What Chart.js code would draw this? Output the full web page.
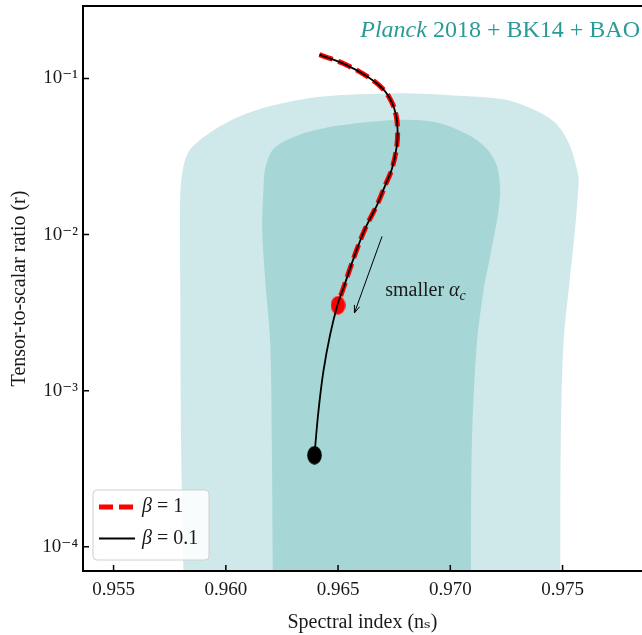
<!DOCTYPE html>
<html>
<head>
<meta charset="utf-8">
<script src="https://cdn.jsdelivr.net/npm/chart.js@4.4.1/dist/chart.umd.min.js"></script>
<style>
  html, body { margin: 0; padding: 0; background: #fff; }
  #wrap { width: 642px; height: 635px; }
</style>
</head>
<body>
<div id="wrap"><canvas id="chart"></canvas></div>
<script>
// ticks
var xTicks = [0.955, 0.960, 0.965, 0.970, 0.975];
var yTicks = [1e-4, 1e-3, 1e-2, 1e-1];
var yTickLabels = ['10\u207B\u2074', '10\u207B\u00B3', '10\u207B\u00B2', '10\u207B\u00B9'];

// beta = 1 track (ns, r)
var beta1Ns = [0.96417, 0.96524, 0.96628, 0.96702, 0.96740, 0.96759, 0.96765, 0.96762,
               0.96740, 0.96710, 0.96673, 0.96628, 0.96591, 0.96554, 0.96524, 0.96497];
var beta1R  = [0.1421, 0.1246, 0.1034, 0.0851, 0.0700, 0.0576, 0.0474, 0.0371,
               0.02637, 0.02065, 0.01541, 0.01149, 0.00857, 0.00610, 0.00455, 0.00353];

// beta = 0.1 track
var beta01Ns = [0.96417, 0.96524, 0.96628, 0.96702, 0.96740, 0.96759, 0.96765, 0.96762,
                0.96740, 0.96710, 0.96673, 0.96628, 0.96591, 0.96554, 0.96524, 0.96497,
                0.96465, 0.96435, 0.96413, 0.96398, 0.96395];
var beta01R  = [0.1421, 0.1246, 0.1034, 0.0851, 0.0700, 0.0576, 0.0474, 0.0371,
                0.02637, 0.02065, 0.01541, 0.01149, 0.00857, 0.00610, 0.00455, 0.00353,
                0.002295, 0.001342, 0.000747, 0.000436, 0.000386];

// end points of the two tracks
var endBeta1 = [0.965, 0.00353];
var endBeta01 = [0.96395, 0.000386];

// Planck 2018 + BK14 + BAO contours (95% outer, 68% inner)
var outerNs = [0.95813, 0.95810, 0.95801, 0.95797, 0.95797, 0.95812, 0.95842, 0.95931,
               0.96049, 0.96198, 0.96420, 0.96762, 0.97012, 0.97236, 0.97385, 0.97474,
               0.97533, 0.97570, 0.97570, 0.97556, 0.97533, 0.97504, 0.97492, 0.97490, 0.97490];
var outerR  = [5e-5, 8.71e-5, 4.37e-4, 5.27e-3, 0.01784, 0.02768, 0.03534, 0.04515,
               0.05623, 0.06665, 0.07650, 0.08028, 0.07794, 0.07352, 0.06194, 0.05098,
               0.03710, 0.02390, 0.01967, 0.01095, 0.005266, 0.001982, 4.58e-4, 7.53e-5, 5e-5];
var innerNs = [0.96210, 0.96205, 0.96198, 0.96175, 0.96162, 0.96168, 0.96175, 0.96212,
               0.96317, 0.96495, 0.96762, 0.96940, 0.97088, 0.97163, 0.97207, 0.97222,
               0.97214, 0.97190, 0.97170, 0.97150, 0.97118, 0.97096, 0.97092, 0.97092];
var innerR  = [5e-5, 4.58e-4, 0.001982, 0.005266, 0.01095, 0.01967, 0.02637, 0.03534,
               0.04296, 0.04973, 0.05429, 0.05225, 0.04296, 0.03534, 0.02768, 0.01967,
               0.01398, 0.00900, 0.00640, 0.00460, 0.001982, 4.58e-4, 7.53e-5, 5e-5];

// "smaller alpha_c" arrow (tail, head) and label anchor
var arrowNs = [0.96696, 0.96573];
var arrowR = [0.00974, 0.00315];
var noteAt = [0.9671, 0.00405];

var SERIF = "'Liberation Serif', 'DejaVu Serif', serif";

function pts(xs, ys) {
  return xs.map(function (x, i) { return { x: x, y: ys[i] }; });
}

function blob(color) {
  var c = document.createElement('canvas');
  c.width = 15; c.height = 19;
  var g = c.getContext('2d');
  g.fillStyle = color;
  g.beginPath();
  g.ellipse(7.5, 9.5, 7.3, 9.3, 0, 0, Math.PI * 2);
  g.fill();
  return c;
}

function noPad(s) {
  s.paddingTop = 0; s.paddingBottom = 0; s.paddingLeft = 0; s.paddingRight = 0;
}

// frame + inward ticks
var frame = {
  id: 'frame',
  afterDatasetsDraw: function (chart) {
    var ctx = chart.ctx, a = chart.chartArea;
    var xs = chart.scales.x, ys = chart.scales.y;
    ctx.save();
    ctx.strokeStyle = '#000';
    ctx.lineWidth = 1.5;
    ctx.beginPath();
    xs.ticks.forEach(function (t) {
      var p = xs.getPixelForValue(t.value);
      ctx.moveTo(p, a.bottom); ctx.lineTo(p, a.bottom - 6);
    });
    ys.ticks.forEach(function (t) {
      var p = ys.getPixelForValue(t.value);
      ctx.moveTo(a.left, p); ctx.lineTo(a.left + 6, p);
    });
    ctx.stroke();
    ctx.lineWidth = 2;
    ctx.beginPath();
    ctx.moveTo(a.right + 5, a.top);
    ctx.lineTo(a.left, a.top);
    ctx.lineTo(a.left, a.bottom);
    ctx.lineTo(a.right + 5, a.bottom);
    ctx.stroke();
    ctx.restore();
  }
};

// title inside plot + arrow note
var notes = {
  id: 'notes',
  afterDatasetsDraw: function (chart) {
    var ctx = chart.ctx, a = chart.chartArea;
    var xs = chart.scales.x, ys = chart.scales.y;
    ctx.save();
    // title
    ctx.fillStyle = '#2a9a96';
    ctx.textBaseline = 'alphabetic';
    ctx.textAlign = 'left';
    var rest = ' 2018 + BK14 + BAO';
    ctx.font = '24px ' + SERIF;
    var wRest = ctx.measureText(rest).width;
    ctx.font = 'italic 24px ' + SERIF;
    var wIt = ctx.measureText('Planck').width;
    var x0 = a.right - 2 - wRest - wIt;
    var yb = a.top + 31;
    ctx.fillText('Planck', x0, yb);
    ctx.font = '24px ' + SERIF;
    ctx.fillText(rest, x0 + wIt, yb);

    // arrow
    var x1 = xs.getPixelForValue(arrowNs[0]), y1 = ys.getPixelForValue(arrowR[0]);
    var x2 = xs.getPixelForValue(arrowNs[1]), y2 = ys.getPixelForValue(arrowR[1]);
    var ang = Math.atan2(y2 - y1, x2 - x1);
    ctx.strokeStyle = '#000';
    ctx.lineWidth = 1;
    ctx.beginPath();
    ctx.moveTo(x1, y1); ctx.lineTo(x2, y2);
    ctx.moveTo(x2 - 8 * Math.cos(ang - 0.35), y2 - 8 * Math.sin(ang - 0.35));
    ctx.lineTo(x2, y2);
    ctx.lineTo(x2 - 8 * Math.cos(ang + 0.35), y2 - 8 * Math.sin(ang + 0.35));
    ctx.stroke();

    // label
    var lx = xs.getPixelForValue(noteAt[0]), ly = ys.getPixelForValue(noteAt[1]);
    ctx.fillStyle = '#1a1a1a';
    ctx.font = '20px ' + SERIF;
    ctx.fillText('smaller ', lx, ly);
    var w = ctx.measureText('smaller ').width;
    ctx.font = 'italic 20px ' + SERIF;
    ctx.fillText('\u03B1', lx + w, ly);
    w += ctx.measureText('\u03B1').width;
    ctx.font = 'italic 14px ' + SERIF;
    ctx.fillText('c', lx + w, ly + 4);
    ctx.restore();
  }
};

// legend in the lower left corner
var legendBox = {
  id: 'legendBox',
  afterDraw: function (chart) {
    var ctx = chart.ctx, a = chart.chartArea;
    var items = chart.data.datasets.filter(function (d) { return d.inLegend; });
    var bx = a.left + 10, by = a.bottom - 81, bw = 116, bh = 70;
    ctx.save();
    ctx.fillStyle = 'rgba(255,255,255,0.85)';
    ctx.strokeStyle = '#d0d0d0';
    ctx.lineWidth = 1;
    ctx.beginPath();
    ctx.roundRect(bx, by, bw, bh, 4);
    ctx.fill();
    ctx.stroke();
    items.forEach(function (d, i) {
      var y = by + 17 + i * 31.5;
      ctx.strokeStyle = d.borderColor;
      ctx.lineWidth = d.borderWidth;
      ctx.setLineDash(d.borderDash || []);
      ctx.beginPath();
      ctx.moveTo(bx + 6, y); ctx.lineTo(bx + 42, y);
      ctx.stroke();
      ctx.setLineDash([]);
      ctx.fillStyle = '#1a1a1a';
      ctx.textBaseline = 'middle';
      ctx.font = 'italic 20px ' + SERIF;
      var lbl = d.label;
      ctx.fillText(lbl.charAt(0), bx + 49, y);
      var w = ctx.measureText(lbl.charAt(0)).width;
      ctx.font = '20px ' + SERIF;
      ctx.fillText(lbl.slice(1), bx + 49 + w, y);
    });
    ctx.restore();
  }
};

new Chart(document.getElementById('chart'), {
  type: 'scatter',
  data: {
    datasets: [
      {
        label: 'outer', data: pts(outerNs, outerR), showLine: true, fill: 'shape',
        backgroundColor: '#cfe8e9', borderWidth: 0, pointRadius: 0, tension: 0.3, order: 10
      },
      {
        label: 'inner', data: pts(innerNs, innerR), showLine: true, fill: 'shape',
        backgroundColor: '#a6d6d6', borderWidth: 0, pointRadius: 0, tension: 0.3, order: 9
      },
      {
        label: '\u03B2 = 1', inLegend: true, data: pts(beta1Ns, beta1R), showLine: true,
        borderColor: '#ff0000', borderWidth: 5, borderDash: [14, 6], pointRadius: 0,
        tension: 0.4, order: 8
      },
      {
        label: 'end1', data: [{ x: endBeta1[0], y: endBeta1[1] }],
        pointStyle: blob('#ff0000'), pointRadius: 8, order: 7
      },
      {
        label: '\u03B2 = 0.1', inLegend: true, data: pts(beta01Ns, beta01R), showLine: true,
        borderColor: '#000000', borderWidth: 1.8, pointRadius: 0, tension: 0.4, order: 6
      },
      {
        label: 'end01', data: [{ x: endBeta01[0], y: endBeta01[1] }],
        pointStyle: blob('#000000'), pointRadius: 8, order: 5
      }
    ]
  },
  options: {
    responsive: true,
    maintainAspectRatio: false,
    animation: false,
    layout: { autoPadding: false, padding: { top: 6, right: 0, left: 0, bottom: 0 } },
    plugins: { legend: { display: false }, tooltip: { enabled: false } },
    scales: {
      x: {
        type: 'linear',
        min: 0.953638,
        max: 0.97854,
        afterBuildTicks: function (s) { s.ticks = xTicks.map(function (v) { return { value: v }; }); },
        afterFit: function (s) { s.height = 64; noPad(s); },
        grid: { display: false, drawTicks: false },
        border: { display: false },
        ticks: {
          color: '#1a1a1a', padding: 8, maxRotation: 0, autoSkip: false,
          font: { family: SERIF, size: 19 },
          callback: function (v) { return v.toFixed(3); }
        },
        title: {
          display: true, text: 'Spectral index (n\u209B)', color: '#1a1a1a',
          font: { family: SERIF, size: 20 }, padding: 0
        }
      },
      y: {
        type: 'logarithmic',
        min: 7.42e-5,
        max: 0.2913,
        afterBuildTicks: function (s) { s.ticks = yTicks.map(function (v) { return { value: v }; }); },
        afterFit: function (s) { s.width = 83; noPad(s); },
        grid: { display: false, drawTicks: false },
        border: { display: false },
        ticks: {
          color: '#1a1a1a', padding: 5, autoSkip: false,
          font: { family: SERIF, size: 19 },
          callback: function (v, i) { return yTickLabels[i]; }
        },
        title: {
          display: true, text: 'Tensor-to-scalar ratio (r)', color: '#1a1a1a',
          font: { family: SERIF, size: 20 }, padding: { top: 8, bottom: 0 }
        }
      }
    }
  },
  plugins: [frame, notes, legendBox]
});
</script>
</body>
</html>
